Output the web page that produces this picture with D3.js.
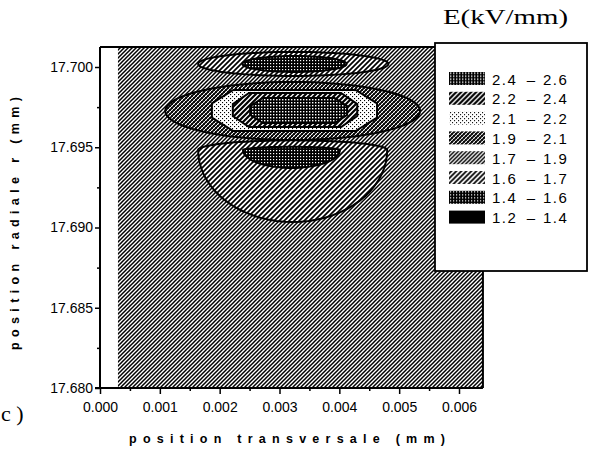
<!DOCTYPE html>
<html>
<head>
<meta charset="utf-8">
<script src="https://cdn.jsdelivr.net/npm/d3@7"></script>
<style>
    body { margin: 0; background: #fff; }
    svg { display: block; }
</style>
</head>
<body>
<svg id="chart" width="594" height="453"></svg>
<script>
'use strict';

// axes
var xTicks = [0, 0.001, 0.002, 0.003, 0.004, 0.005, 0.006];
var xMinorTicks = [0.0005, 0.0015, 0.0025, 0.0035, 0.0045, 0.0055];
var yTicks = [17.680, 17.685, 17.690, 17.695, 17.700];
var yMinorTicks = [17.6825, 17.6875, 17.6925, 17.6975];

// extent of the computed field and its base level
var fieldX = [0.0003, 0.0064];
var fieldR = [17.680, 17.70125];
var backgroundLevel = 1.7;

// legend classes E (kV/mm)
var levelLow = [2.4, 2.2, 2.1, 1.9, 1.7, 1.6, 1.4, 1.2];
var levelHigh = [2.6, 2.4, 2.2, 2.1, 1.9, 1.7, 1.6, 1.4];

// contour regions, painted in this order (centre, half width, half height above / below)
var regionLevel = [1.6, 1.4, 1.6, 1.4, 1.9, 2.1, 2.2, 2.4];
var regionShape = ['ellipse', 'ellipse', 'ellipse', 'ellipse', 'ellipse', 'octagon', 'octagon', 'octagon'];
var regionX = [0.00322, 0.00320, 0.00323, 0.00325, 0.00322, 0.00325, 0.00326, 0.00332];
var regionR = [17.69483, 17.69483, 17.70019, 17.70019, 17.69726, 17.69729, 17.69732, 17.69729];
var regionHalfW = [0.00158, 0.00081, 0.00159, 0.00087, 0.00213, 0.00138, 0.00104, 0.00081];
var regionHalfUp = [0.00060, 0.00020, 0.00075, 0.00050, 0.00181, 0.00128, 0.00106, 0.00078];
var regionHalfDown = [0.00449, 0.00112, 0.00075, 0.00050, 0.00181, 0.00128, 0.00106, 0.00078];

var svg = d3.select('#chart');

var x = d3.scaleLinear().domain([0, 0.006]).range([100, 459]);
var y = d3.scaleLinear().domain([17.680, 17.700]).range([388, 67]);

var defs = svg.append('defs');

function patternId(level) {
    return 'lv' + String(level).replace('.', '_');
}

function pattern(level, size, bg) {
    var p = defs.append('pattern')
        .attr('id', patternId(level))
        .attr('patternUnits', 'userSpaceOnUse')
        .attr('width', size)
        .attr('height', size);
    p.append('rect').attr('width', size).attr('height', size).attr('fill', bg);
    return p;
}

function diagonal(p, size, w) {
    var s = size;
    p.append('path')
        .attr('d', 'M-1,' + (s + 1) + 'L' + (s + 1) + ',-1M-1,1L1,-1M' + (s - 1) + ',' + (s + 1) + 'L' + (s + 1) + ',' + (s - 1))
        .attr('stroke', '#000').attr('stroke-width', w);
}

function dots(p, sz, fill, pts) {
    pts.forEach(function (d) {
        p.append('rect').attr('x', d[0]).attr('y', d[1]).attr('width', sz).attr('height', sz).attr('fill', fill);
    });
}

var p;
p = pattern(2.4, 3, '#000'); dots(p, 1.4, '#fff', [[0, 0]]);
p = pattern(2.2, 5, '#fff'); diagonal(p, 5, 2.2);
p = pattern(2.1, 4, '#fff'); dots(p, 1.1, '#000', [[0, 0], [2, 2]]);
p = pattern(1.9, 4, '#fff'); diagonal(p, 4, 1.6);
p.append('path').attr('d', 'M-1,-1L5,5').attr('stroke', '#000').attr('stroke-width', 0.8);
p = pattern(1.7, 4, '#fff'); diagonal(p, 4, 1.5);
p = pattern(1.6, 5, '#fff'); diagonal(p, 5, 1.7);
p = pattern(1.4, 3, '#000'); dots(p, 1.2, '#fff', [[0, 0]]);
p = pattern(1.2, 4, '#000');

defs.append('clipPath').attr('id', 'field-clip')
    .append('rect')
    .attr('x', x(fieldX[0])).attr('y', y(fieldR[1]))
    .attr('width', x(fieldX[1]) - x(fieldX[0]))
    .attr('height', y(fieldR[0]) - y(fieldR[1]));

// field background
svg.append('rect')
    .attr('x', x(fieldX[0])).attr('y', y(fieldR[1]))
    .attr('width', x(fieldX[1]) - x(fieldX[0]))
    .attr('height', y(fieldR[0]) - y(fieldR[1]))
    .attr('fill', 'url(#' + patternId(backgroundLevel) + ')');

function shapePoints(i) {
    var cx = regionX[i], cr = regionR[i], hw = regionHalfW[i];
    var up = regionHalfUp[i], dn = regionHalfDown[i];
    if (regionShape[i] === 'octagon') {
        var a = 0.74, b = 0.35;
        return [
            [cx - a * hw, cr + up], [cx + a * hw, cr + up],
            [cx + hw, cr + b * up], [cx + hw, cr - b * dn],
            [cx + a * hw, cr - dn], [cx - a * hw, cr - dn],
            [cx - hw, cr - b * dn], [cx - hw, cr + b * up]
        ];
    }
    return d3.range(72).map(function (k) {
        var t = k / 72 * 2 * Math.PI, s = Math.sin(t);
        return [cx + hw * Math.cos(t), cr + (s > 0 ? up : dn) * s];
    });
}

var outline = d3.line()
    .x(function (d) { return x(d[0]); })
    .y(function (d) { return y(d[1]); })
    .curve(d3.curveLinearClosed);

svg.append('g')
    .attr('clip-path', 'url(#field-clip)')
    .selectAll('path')
    .data(d3.range(regionLevel.length))
    .enter().append('path')
    .attr('d', function (i) { return outline(shapePoints(i)); })
    .attr('fill', function (i) { return 'url(#' + patternId(regionLevel[i]) + ')'; })
    .attr('stroke', '#000')
    .attr('stroke-width', 2);

// frame
var frame = svg.append('g').attr('stroke', '#000').attr('stroke-width', 2);
frame.append('line').attr('x1', x(0)).attr('x2', x(fieldX[1])).attr('y1', y(fieldR[1])).attr('y2', y(fieldR[1]));
frame.append('line').attr('x1', x(0)).attr('x2', x(0)).attr('y1', y(fieldR[1])).attr('y2', y(fieldR[0]));
frame.append('line').attr('x1', x(0) - 5).attr('x2', x(fieldX[1])).attr('y1', y(fieldR[0])).attr('y2', y(fieldR[0]));
frame.append('line').attr('x1', x(fieldX[1])).attr('x2', x(fieldX[1])).attr('y1', y(fieldR[1])).attr('y2', y(fieldR[0]));

function styleAxis(g) {
    g.select('.domain').remove();
    g.attr('font-family', '"Liberation Sans", Arial, sans-serif').attr('font-size', 14);
    g.selectAll('line').attr('stroke-width', 1.5);
    g.selectAll('text').attr('fill', '#000');
}

svg.append('g')
    .attr('transform', 'translate(0,' + y(17.680) + ')')
    .call(d3.axisBottom(x).tickValues(xTicks).tickSize(6).tickPadding(8).tickFormat(d3.format('.3f')))
    .call(styleAxis);
svg.append('g')
    .attr('transform', 'translate(0,' + y(17.680) + ')')
    .call(d3.axisBottom(x).tickValues(xMinorTicks).tickSize(3).tickFormat(''))
    .call(styleAxis);
svg.append('g')
    .attr('transform', 'translate(' + x(0) + ',0)')
    .call(d3.axisLeft(y).tickValues(yTicks).tickSize(5).tickPadding(2).tickFormat(d3.format('.3f')))
    .call(styleAxis);
svg.append('g')
    .attr('transform', 'translate(' + x(0) + ',0)')
    .call(d3.axisLeft(y).tickValues(yMinorTicks).tickSize(3).tickFormat(''))
    .call(styleAxis);

// axis titles
svg.append('text')
    .attr('x', 129).attr('y', 443)
    .attr('textLength', 316).attr('lengthAdjust', 'spacing')
    .attr('font-family', '"Liberation Sans", Arial, sans-serif')
    .attr('font-size', 12.5).attr('font-weight', 'bold')
    .text('position transversale (mm)');

svg.append('text')
    .attr('transform', 'translate(19,350) rotate(-90)')
    .attr('textLength', 253).attr('lengthAdjust', 'spacing')
    .attr('font-family', '"Liberation Sans", Arial, sans-serif')
    .attr('font-size', 12.5).attr('font-weight', 'bold')
    .text('position radiale r (mm)');

// panel tag
svg.append('text')
    .attr('x', 1).attr('y', 421)
    .attr('font-family', '"Liberation Serif", "Times New Roman", serif')
    .attr('font-size', 22)
    .text('c )');

// legend
var legend = svg.append('g');
legend.append('rect')
    .attr('x', 435).attr('y', 43).attr('width', 152).attr('height', 228)
    .attr('fill', '#fff').attr('stroke', '#000').attr('stroke-width', 1.8);

legend.append('text')
    .attr('x', 443).attr('y', 24)
    .attr('textLength', 125).attr('lengthAdjust', 'spacingAndGlyphs')
    .attr('font-family', '"Liberation Serif", "Times New Roman", serif')
    .attr('font-size', 21)
    .text('E(kV/mm)');

var rows = legend.selectAll('g.row')
    .data(d3.range(levelLow.length))
    .enter().append('g')
    .attr('class', 'row')
    .attr('transform', function (i) { return 'translate(0,' + (78.5 + i * 19.8) + ')'; })
    .attr('font-family', '"Liberation Sans", Arial, sans-serif')
    .attr('font-size', 15)
    .attr('letter-spacing', 1.5);

rows.append('rect')
    .attr('x', 449).attr('y', -6.5).attr('width', 36).attr('height', 13)
    .attr('fill', function (i) { return 'url(#' + patternId(levelLow[i]) + ')'; });
rows.append('text').attr('x', 492).attr('y', 6).text(function (i) { return levelLow[i].toFixed(1); });
rows.append('text').attr('x', 531).attr('y', 6).attr('text-anchor', 'middle').attr('letter-spacing', 0).text('–');
rows.append('text').attr('x', 543).attr('y', 6).text(function (i) { return levelHigh[i].toFixed(1); });
</script>
</body>
</html>
